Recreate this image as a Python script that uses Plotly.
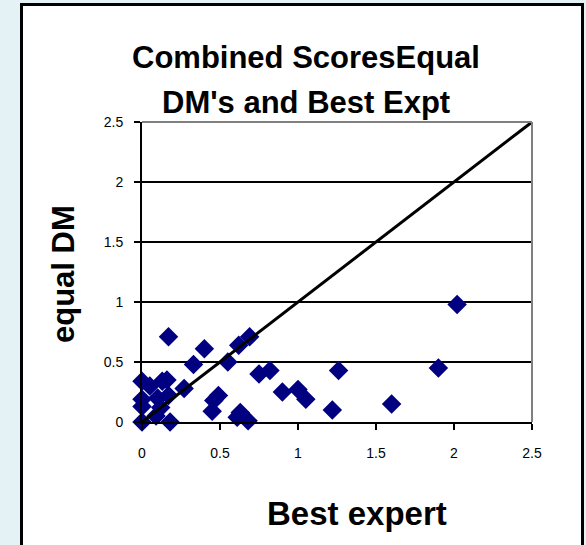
import plotly.graph_objects as go

# Data
best_expert = [0.00, 0.00, 0.00, 0.00, 0.05, 0.10, 0.09, 0.12, 0.13, 0.17,
               0.18, 0.16, 0.17, 0.27, 0.33, 0.40, 0.45, 0.46, 0.49, 0.55,
               0.61, 0.63, 0.68, 0.62, 0.69, 0.75, 0.82, 0.90, 1.00, 1.05,
               1.22, 1.26, 1.60, 1.90, 2.02]
equal_dm = [0.00, 0.13, 0.19, 0.34, 0.30, 0.20, 0.05, 0.12, 0.34, 0.22,
            0.00, 0.35, 0.71, 0.28, 0.48, 0.61, 0.09, 0.18, 0.22, 0.50,
            0.04, 0.08, 0.01, 0.64, 0.71, 0.40, 0.43, 0.25, 0.27, 0.19,
            0.10, 0.43, 0.15, 0.45, 0.98]
diag_x = [0, 2.5]
diag_y = [0, 2.5]
tick_vals = [0, 0.5, 1, 1.5, 2, 2.5]
tick_text = ["0", "0.5", "1", "1.5", "2", "2.5"]

FONT = "Liberation Sans, Arial, sans-serif"
PAGE_BG = "#e4f2f6"

fig = go.Figure()
fig.add_trace(go.Scatter(
    x=best_expert, y=equal_dm, mode="markers",
    marker=dict(symbol="diamond", size=15, color="#000080", line=dict(width=0)),
    cliponaxis=False, showlegend=False, hoverinfo="x+y"))
fig.add_trace(go.Scatter(
    x=diag_x, y=diag_y, mode="lines",
    line=dict(color="black", width=3),
    cliponaxis=False, showlegend=False, hoverinfo="skip"))

L, T, W, H = 142, 122, 390, 300

def px(xp):
    return (xp - L) / W

def py(yp):
    return (T + H - yp) / H

shapes = [
    # white chart box with black border
    dict(type="rect", xref="paper", yref="paper",
         x0=px(21.5), x1=px(582.5), y0=py(600), y1=py(4.5),
         fillcolor="white", line=dict(color="black", width=3), layer="below"),
    # gray top and right plot-area border
    dict(type="line", xref="paper", yref="paper", x0=0, x1=1, y0=1, y1=1,
         line=dict(color="#808080", width=2), layer="above"),
    dict(type="line", xref="paper", yref="paper", x0=1, x1=1, y0=0, y1=1,
         line=dict(color="#808080", width=2), layer="above"),
]

annotations = [
    dict(text="<b>Combined ScoresEqual</b>", x=px(306), y=py(57),
         xref="paper", yref="paper", showarrow=False,
         xanchor="center", yanchor="middle",
         font=dict(family=FONT, size=31, color="black")),
    dict(text="<b>DM's and Best Expt</b>", x=px(306), y=py(102),
         xref="paper", yref="paper", showarrow=False,
         xanchor="center", yanchor="middle",
         font=dict(family=FONT, size=31, color="black")),
    dict(text="<b>equal DM</b>", x=px(63), y=py(274), textangle=-90,
         xref="paper", yref="paper", showarrow=False,
         xanchor="center", yanchor="middle",
         font=dict(family=FONT, size=31, color="black")),
    dict(text="<b>Best expert</b>", x=px(357), y=py(513),
         xref="paper", yref="paper", showarrow=False,
         xanchor="center", yanchor="middle",
         font=dict(family=FONT, size=33, color="black")),
]

fig.update_layout(
    width=586, height=545,
    margin=dict(l=L, r=586 - L - W, t=T, b=545 - T - H, pad=0),
    paper_bgcolor=PAGE_BG,
    plot_bgcolor="white",
    shapes=shapes,
    annotations=annotations,
    showlegend=False,
    font=dict(family=FONT, size=14, color="black"),
)
fig.update_xaxes(
    range=[0, 2.5], tickvals=tick_vals, ticktext=tick_text,
    showgrid=False, zeroline=False,
    showline=True, linecolor="black", linewidth=2,
    ticks="outside", ticklen=6, tickwidth=2, tickcolor="black",
    ticklabelstandoff=11,
    tickfont=dict(family=FONT, size=14, color="black"),
)
fig.update_yaxes(
    range=[0, 2.5], tickvals=tick_vals, ticktext=tick_text,
    showgrid=True, gridcolor="black", gridwidth=2, zeroline=False,
    showline=True, linecolor="black", linewidth=2,
    ticks="outside", ticklen=6, tickwidth=2, tickcolor="black",
    ticklabelstandoff=8,
    tickfont=dict(family=FONT, size=14, color="black"),
)

fig.write_html(
    "out.html",
    config={"displayModeBar": False},
    post_script="document.body.style.margin='0';"
                "document.body.style.background='" + PAGE_BG + "';",
)
